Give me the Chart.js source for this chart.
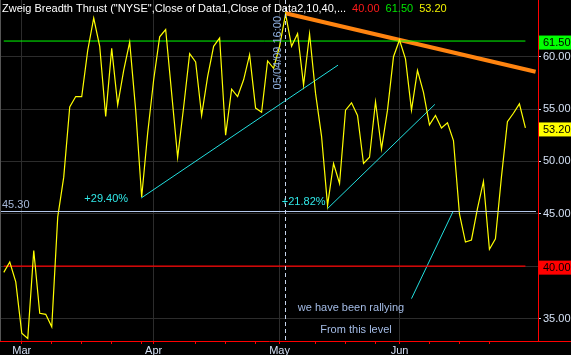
<!DOCTYPE html>
<html>
<head>
<meta charset="utf-8">
<script src="https://cdn.jsdelivr.net/npm/chart.js@4.4.1/dist/chart.umd.min.js"></script>
<style>
html,body{margin:0;padding:0;background:#000;}
canvas{display:block;}
</style>
</head>
<body>
<canvas id="zbtChart" width="571" height="355"></canvas>
<script>

/* ----------- DATA ----------- */

// one value per trading day, 25 Feb 2009 -> 30 Jun 2009
const zbtValues = [
39.4,40.4,38.5,33.6,33.1,41.5,35.5,35.4,34.2,44.7,
48.5,55.2,56.2,56.2,60.6,63.7,61.0,54.3,60.8,55.4,
58.7,61.4,54.9,46.6,52.7,57.8,61.9,62.6,56.5,50.4,
55.2,60.3,59.5,54.4,58.1,61.0,61.8,52.5,56.9,56.2,
57.8,60.2,55.1,54.7,59.6,58.9,61.0,64.1,61.0,62.2,
57.3,62.2,56.5,52.4,45.8,49.8,47.9,54.9,55.6,54.4,
49.8,50.4,55.7,51.2,54.9,60.0,61.6,59.8,54.9,58.7,
56.6,53.5,54.4,53.2,53.7,52.0,45.0,42.3,42.5,45.5,
48.1,41.6,42.6,48.5,53.8,54.6,55.5,53.2
];

const monthTicks = [3, 25, 46, 66];
const monthLabels = ['Mar', 'Apr', 'May', 'Jun'];
const weekTicks = [8, 13, 18, 23, 32, 37, 42, 52, 57, 62, 71, 76, 81];

const yTicks = [35, 40, 45, 50, 55, 60];

const lowerLevel = 40.0;
const upperLevel = 61.5;
const lastValue = 53.2;
const markLevel = 45.3;

const cursorIndex = 47;
const cursorLabel = '05/04/09 16:00';

// trend lines as [index, value] pairs
const orangeTrend = [[47.0, 64.15], [88.7, 58.57]];
const cyanTrend1 = [[22.9, 46.5], [55.75, 59.2]];
const cyanTrend2 = [[54.0, 45.5], [71.9, 55.45]];
const cyanTrend3 = [[68.0, 36.9], [74.9, 45.18]];

const trendLabels = ['+29.40%', '+21.82%'];
const noteLines = ['we have been rallying', 'From this level'];

const titleText = 'Zweig Breadth Thrust ("NYSE",Close of Data1,Close of Data2,10,40,...';

/* ----------- HELPERS ----------- */

const FONT = '"Liberation Sans", Arial, sans-serif';
const lastIdx = zbtValues.length - 1;

function pairs(arr){
return arr.map(p => ({x:p[0], y:p[1]}));
}

function levelLine(v){
return [{x:0, y:v}, {x:lastIdx, y:v}];
}

function noPadding(s){
s.paddingTop = 0;
s.paddingBottom = 0;
s.paddingLeft = 0;
s.paddingRight = 0;
}

/* ----------- CUSTOM PLUGIN FOR OVERLAYS ----------- */

const overlay = {
id: 'overlay',

beforeDraw(chart){
const {ctx} = chart;
ctx.save();
ctx.fillStyle = '#000';
ctx.fillRect(0, 0, chart.width, chart.height);
ctx.restore();
},

afterDatasetsDraw(chart){
const {ctx, chartArea, scales:{x,y}} = chart;
ctx.save();

/* ---- 45.30 reference line ---- */
const my = Math.round(y.getPixelForValue(markLevel)) + 0.5;
ctx.strokeStyle = '#b4c8ec';
ctx.lineWidth = 1;
ctx.beginPath();
ctx.moveTo(chartArea.left, my);
ctx.lineTo(chartArea.right - 2, my);
ctx.stroke();

ctx.font = '11px ' + FONT;
ctx.fillStyle = '#a6b8d8';
ctx.textBaseline = 'middle';
ctx.textAlign = 'left';
ctx.fillText(markLevel.toFixed(2), 2, my - 7);

/* ---- cursor line ---- */
const cx = Math.round(x.getPixelForValue(cursorIndex)) - 0.5;
ctx.setLineDash([4, 3]);
ctx.strokeStyle = '#c8d6ee';
ctx.beginPath();
ctx.moveTo(cx, chartArea.top);
ctx.lineTo(cx, chartArea.bottom);
ctx.stroke();
ctx.setLineDash([]);

ctx.save();
ctx.translate(cx - 8, 16);
ctx.rotate(-Math.PI/2);
ctx.fillStyle = '#8fb0e0';
ctx.textAlign = 'right';
ctx.textBaseline = 'middle';
ctx.fillText(cursorLabel, 0, 0);
ctx.restore();

/* ---- trend labels ---- */
ctx.fillStyle = '#30e8e8';
ctx.textAlign = 'right';
const s1 = cyanTrend1[0], s2 = cyanTrend2[0];
ctx.fillText(trendLabels[0], x.getPixelForValue(s1[0]) - 13, y.getPixelForValue(s1[1]) + 1);
ctx.fillText(trendLabels[1], x.getPixelForValue(s2[0]) - 2, y.getPixelForValue(s2[1]) - 7);

/* ---- notes ---- */
ctx.fillStyle = '#a4bce6';
ctx.textAlign = 'center';
ctx.fillText(noteLines[0], 351, 308);
ctx.fillText(noteLines[1], 356, 330);

/* ---- left border ---- */
ctx.strokeStyle = '#555';
ctx.beginPath();
ctx.moveTo(0.5, 0);
ctx.lineTo(0.5, chartArea.bottom);
ctx.stroke();

ctx.restore();
},

afterDraw(chart){
const {ctx, chartArea, scales:{y}} = chart;
ctx.save();

/* ---- bottom axis line to the right edge ---- */
ctx.strokeStyle = '#ff0000';
ctx.lineWidth = 1;
ctx.beginPath();
ctx.moveTo(chartArea.right, Math.round(chartArea.bottom) + 0.5);
ctx.lineTo(chart.width, Math.round(chartArea.bottom) + 0.5);
ctx.stroke();

/* ---- value badges on the right axis ---- */
ctx.font = '11px ' + FONT;
ctx.textBaseline = 'middle';
ctx.textAlign = 'left';
const badges = [
[upperLevel, '#00ff00'],
[lastValue, '#ffff00'],
[lowerLevel, '#ff0000']
];
badges.forEach(b => {
const py = y.getPixelForValue(b[0]) + 1.5;
ctx.fillStyle = b[1];
ctx.fillRect(chartArea.right + 1, py - 7, chart.width - chartArea.right - 1, 14);
ctx.fillStyle = '#000';
ctx.fillText(b[0].toFixed(2), chartArea.right + 5, py + 0.5);
});

/* ---- title ---- */
ctx.textBaseline = 'alphabetic';
let tx = 2;
const parts = [
[titleText, '#ffffff'],
[lowerLevel.toFixed(2), '#ff1a1a'],
[upperLevel.toFixed(2), '#00e600'],
[lastValue.toFixed(2), '#f0f000']
];
parts.forEach(p => {
ctx.fillStyle = p[1];
ctx.fillText(p[0], tx, 12);
tx += ctx.measureText(p[0]).width + 6;
});

ctx.restore();
}
};

/* ----------- CHART ----------- */

const ctx = document.getElementById('zbtChart').getContext('2d');

new Chart(ctx, {
type: 'scatter',
data: {
datasets: [
{
data: zbtValues.map((v,i) => ({x:i, y:v})),
showLine: true,
borderColor: '#ffff00',
borderWidth: 1.2,
pointRadius: 0,
tension: 0
},
{
data: levelLine(upperLevel),
showLine: true,
borderColor: '#00ff00',
borderWidth: 1,
pointRadius: 0
},
{
data: levelLine(lowerLevel),
showLine: true,
borderColor: '#ff0000',
borderWidth: 1.2,
pointRadius: 0
},
{
data: pairs(orangeTrend),
showLine: true,
borderColor: '#ff8410',
borderWidth: 4,
pointRadius: 0
},
{
data: pairs(cyanTrend1),
showLine: true,
borderColor: '#22e0e0',
borderWidth: 1,
pointRadius: 0
},
{
data: pairs(cyanTrend2),
showLine: true,
borderColor: '#22e0e0',
borderWidth: 1,
pointRadius: 0
},
{
data: pairs(cyanTrend3),
showLine: true,
borderColor: '#22e0e0',
borderWidth: 1,
pointRadius: 0
}
]
},
options: {
responsive: false,
animation: false,
devicePixelRatio: 1,
layout: {padding: 0},
plugins: {
legend: {display: false},
tooltip: {enabled: false},
title: {display: false}
},
scales: {
x: {
type: 'linear',
position: 'bottom',
min: -0.63,
max: 89.1,
afterFit: s => { s.height = 14; noPadding(s); },
afterBuildTicks: s => {
s.ticks = monthTicks.concat(weekTicks).sort((a,b) => a-b).map(v => ({value: v}));
},
ticks: {
autoSkip: false,
maxRotation: 0,
padding: 0,
color: '#d4e0f4',
font: {family: FONT, size: 11},
callback: v => {
const k = monthTicks.indexOf(v);
return k >= 0 ? monthLabels[k] : '';
}
},
grid: {
color: c => (c.tick && monthTicks.includes(c.tick.value)) ? '#2c2c2c' : 'rgba(0,0,0,0)',
tickColor: '#ff0000',
tickLength: 3
},
border: {color: '#ff0000', width: 1}
},
y: {
type: 'linear',
position: 'right',
min: 32.85,
max: 65.42,
afterFit: s => { s.width = 33; noPadding(s); },
afterBuildTicks: s => {
s.ticks = yTicks.map(v => ({value: v}));
},
ticks: {
padding: 2,
color: '#d4e0f4',
font: {family: FONT, size: 11},
callback: v => v.toFixed(2)
},
grid: {
color: '#2c2c2c',
tickColor: '#d4e0f4',
tickLength: 3
},
border: {color: '#ff0000', width: 1}
}
}
},
plugins: [overlay]
});

</script>
</body>
</html>
